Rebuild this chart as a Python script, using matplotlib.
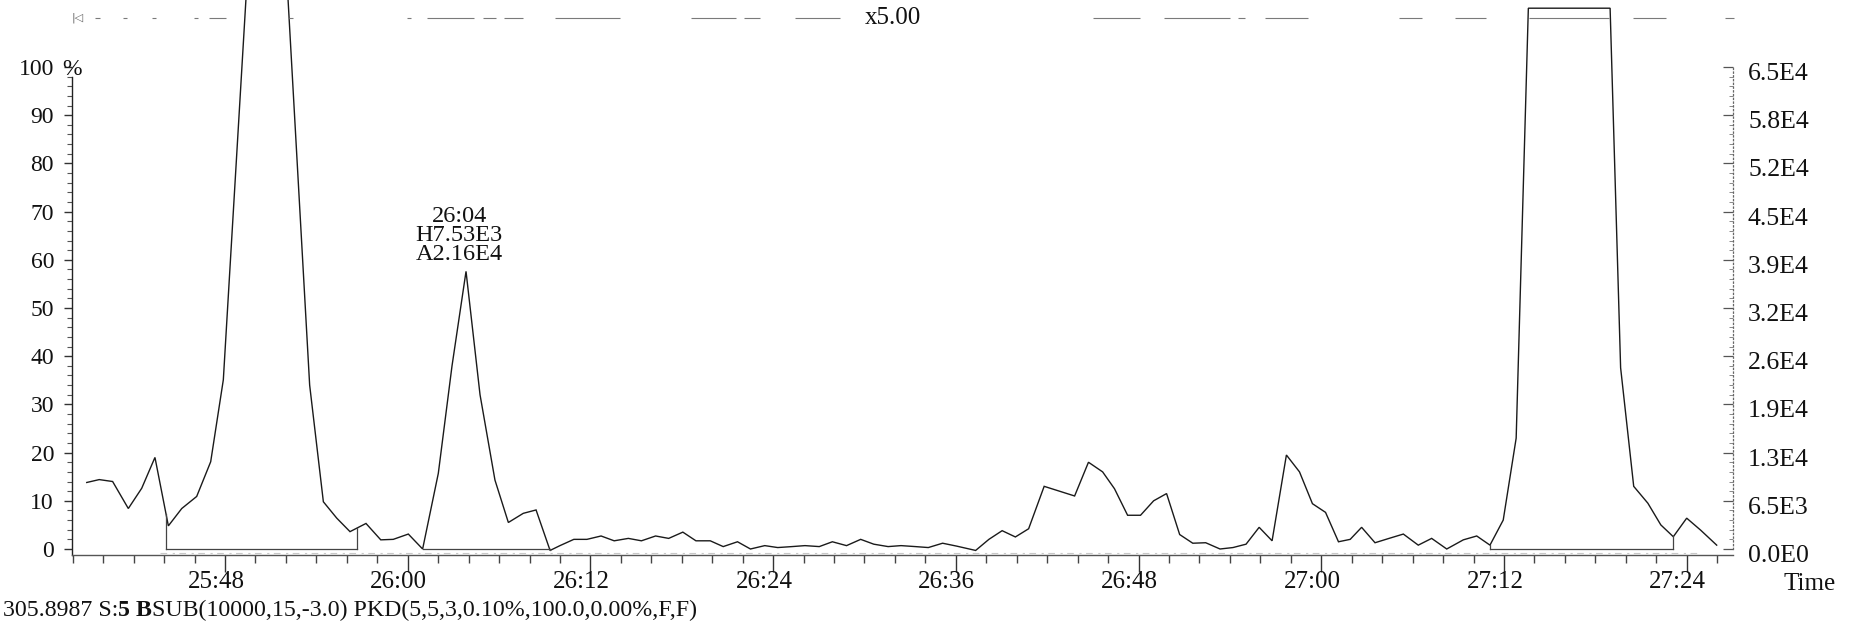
import matplotlib
matplotlib.use("Agg")
import matplotlib.pyplot as plt
import numpy as np

# ---------------- data (time in s after 25:00, display intensity in %) ----------------
scan_time_s = [
    98.92, 99.74, 100.62, 101.65, 102.53, 103.40, 104.28, 105.16, 106.14, 107.06,
    107.89, 109.45, 110.23, 111.15, 112.07, 113.56, 114.46, 115.34, 116.21, 117.26,
    118.23, 119.05, 120.04, 120.98, 122.01, 122.91, 123.83, 124.75, 125.73, 126.61,
    127.59, 128.43, 129.35, 130.00, 130.91, 131.77, 132.70, 133.56, 134.49, 135.35,
    136.28, 137.14, 138.07, 138.93, 139.87, 140.72, 141.66, 142.51, 143.45, 144.30,
    145.24, 146.09, 147.03, 147.89, 148.82, 149.75, 150.61, 151.55, 152.40, 153.34,
    154.19, 155.13, 156.05, 157.30, 158.17, 159.04, 159.91, 160.78, 161.80, 162.80,
    163.80, 164.71, 165.64, 166.42, 167.28, 168.13, 168.99, 169.84, 170.70, 171.56,
    172.41, 173.35, 174.20, 175.06, 175.92, 176.77, 177.71, 178.57, 179.42, 180.28,
    181.13, 181.90, 182.65, 183.53, 184.45, 185.39, 186.37, 187.25, 188.24, 189.33,
    190.21, 191.08, 191.95, 192.80, 193.60, 194.50, 195.40, 196.30, 197.20, 198.10,
    198.97, 199.66, 200.52, 201.45, 202.30, 203.12, 204.00, 204.92, 205.97,
]
intensity_pct = [
    13.8, 14.4, 14.0, 8.4, 12.6, 19.0, 4.8, 8.4, 10.9, 18.1,
    35.1, 118.0, 500.0, 520.0, 118.0, 34.0, 9.8, 6.4, 3.6, 5.3,
    1.9, 2.0, 3.1, 0.0, 15.7, 38.0, 57.6, 32.0, 14.3, 5.5,
    7.4, 8.1, -0.3, 0.7, 2.0, 2.0, 2.7, 1.7, 2.2, 1.7,
    2.7, 2.2, 3.5, 1.7, 1.7, 0.5, 1.5, 0.0, 0.7, 0.3,
    0.5, 0.7, 0.5, 1.5, 0.7, 2.0, 1.0, 0.5, 0.7, 0.5,
    0.3, 1.2, 0.6, -0.3, 2.0, 3.8, 2.5, 4.2, 13.0, 12.0,
    11.0, 18.0, 16.0, 12.5, 7.0, 7.0, 10.0, 11.5, 3.0, 1.2,
    1.3, 0.0, 0.3, 1.0, 4.5, 1.7, 19.5, 16.0, 9.4, 7.6,
    1.5, 2.0, 4.5, 1.3, 2.2, 3.1, 0.8, 2.2, 0.0, 1.9,
    2.7, 0.8, 6.0, 23.0, 112.2, 112.2, 112.2, 112.2, 112.2, 112.2,
    112.2, 37.6, 13.0, 9.5, 5.0, 2.55, 6.4, 3.9, 0.8,
]

# integration windows (start, end) in s after 25:00
peak_windows = [(104.13, 116.65), (120.98, 129.35), (191.08, 203.10)]

x_tick_times = [108, 120, 132, 144, 156, 168, 180, 192, 204]
x_tick_labels = ["25:48", "26:00", "26:12", "26:24", "26:36", "26:48",
                 "27:00", "27:12", "27:24"]
y_tick_values = [0, 10, 20, 30, 40, 50, 60, 70, 80, 90, 100]
left_tick_labels = ["0", "10", "20", "30", "40", "50", "60", "70", "80", "90", "100"]
right_tick_labels = ["0.0E0", "6.5E3", "1.3E4", "1.9E4", "2.6E4", "3.2E4",
                     "3.9E4", "4.5E4", "5.2E4", "5.8E4", "6.5E4"]
peak_label_lines = ["26:04", "H7.53E3", "A2.16E4"]
footer_parts = [("305.8987 S:", "normal"), ("5", "bold"), (" ", "normal"),
                ("B", "bold"), ("SUB(10000,15,-3.0) PKD(5,5,3,0.10%,100.0,0.00%,F,F)", "normal")]

# ---------------- layout ----------------
W, H, DPI = 1859, 622, 100
plt.rcParams['font.family'] = ['Liberation Serif', 'DejaVu Serif']

PX_PER_S = 15.226
X_REF_PX, X_REF_T = 225.0, 108.0
Y0_PX, PX_PER_PCT = 549.0, 4.82
AX_L, AX_R, AX_B, AX_T = 72.0, 1733.0, 555.0, 0.0

# broken "x5" trace across the top (pixel spans)
top_trace_spans = [(95, 100), (123, 127), (152, 156), (194, 198), (209, 226), (289, 293),
                   (407, 411), (427, 474), (483, 496), (504, 523), (555, 620),
                   (691, 736), (744, 760), (795, 840), (1093, 1140), (1164, 1230),
                   (1238, 1245), (1265, 1308), (1399, 1422), (1455, 1486),
                   (1529, 1609), (1633, 1666), (1725, 1734)]


def t_of_px(x):
    return X_REF_T + (x - X_REF_PX) / PX_PER_S


def p_of_px(y):
    return (Y0_PX - y) / PX_PER_PCT


def ypx_of_p(p):
    return Y0_PX - p * PX_PER_PCT


def xpx_of_t(t):
    return X_REF_PX + (t - X_REF_T) * PX_PER_S


def fx(x):
    return x / W


def fy(y):
    return 1 - y / H


fig = plt.figure(figsize=(W / DPI, H / DPI), dpi=DPI)
fig.patch.set_facecolor('white')
ax = fig.add_axes([AX_L / W, 1 - AX_B / H, (AX_R - AX_L) / W, (AX_B - AX_T) / H])
ax.patch.set_alpha(0)
ax.set_xlim(t_of_px(AX_L), t_of_px(AX_R))
ax.set_ylim(p_of_px(AX_B), p_of_px(AX_T))

for s in ['top', 'right']:
    ax.spines[s].set_visible(False)
ax.spines['left'].set_bounds(p_of_px(AX_B), p_of_px(77))
ax.spines['left'].set_color('#222222')
ax.spines['left'].set_linewidth(1.0)
ax.spines['bottom'].set_color('#555555')
ax.spines['bottom'].set_linewidth(1.0)

# x ticks
ax.set_xticks(x_tick_times)
ax.set_xticks(np.arange(98, 207, 2), minor=True)
ax.tick_params(axis='x', which='major', length=12, width=1.0, color='#333333',
               direction='out', labelbottom=False)
ax.tick_params(axis='x', which='minor', length=6, width=1.0, color='#444444',
               direction='out')
# y ticks (left)
ax.set_yticks(y_tick_values)
ax.set_yticks(np.arange(0, 101, 2), minor=True)
ax.tick_params(axis='y', which='major', length=6, width=1.0, color='#333333',
               direction='out', labelleft=False)
ax.tick_params(axis='y', which='minor', length=3.5, width=0.8, color='#555555',
               direction='out')

# right axis (dotted)
ax2 = ax.twinx()
ax2.set_ylim(ax.get_ylim())
for s in ['top', 'left', 'bottom']:
    ax2.spines[s].set_visible(False)
ax2.spines['right'].set_bounds(0, 100)
ax2.spines['right'].set_linestyle((0, (1, 2)))
ax2.spines['right'].set_color('#666666')
ax2.spines['right'].set_linewidth(0.9)
ax2.set_yticks(y_tick_values)
ax2.set_yticks(np.arange(0, 101, 2), minor=True)
ax2.tick_params(axis='y', which='major', length=7, width=0.9, color='#555555',
                direction='in', labelright=False)
ax2.tick_params(axis='y', which='minor', length=3, width=0.7, color='#888888',
                direction='in')

# chromatogram trace
ax.plot(scan_time_s, intensity_pct, color='#1a1a1a', lw=1.0, solid_joinstyle='miter')

# integration baselines and drop lines
for t0, t1 in peak_windows:
    ax.plot([t0, t1], [0, 0], color='#444444', lw=0.9)
    for tt in (t0, t1):
        v = float(np.interp(tt, scan_time_s, intensity_pct))
        ax.plot([tt, tt], [0, v], color='#444444', lw=0.9)

# broken trace along the top
for a, b in top_trace_spans:
    ax.plot([t_of_px(a), t_of_px(b)], [p_of_px(17.5)] * 2, color='#7a7a7a', lw=0.8,
            clip_on=False, solid_capstyle='butt')
# faint dotted baseline just above the axis
ax.plot([t_of_px(160), t_of_px(1700)], [p_of_px(552.5)] * 2, color='#c8c8c8', lw=0.8,
        dashes=(6, 5, 2, 4), clip_on=False)

# peak annotation
ts = np.array(scan_time_s)
ps = np.array(intensity_pct)
mask = (ts > 120) & (ts < 130)
i_apex = np.argmax(np.where(mask, ps, -1e9))
for line, off in zip(peak_label_lines, [54.5, 35.5, 17.0]):
    ax.annotate(line, xy=(ts[i_apex], ps[i_apex]), xytext=(-7, off),
                textcoords='offset pixels', ha='center', va='center',
                fontsize=17.5, color='#111111', annotation_clip=False)

# x tick labels
for t, lab in zip(x_tick_times, x_tick_labels):
    fig.text(fx(xpx_of_t(t) - 9), fy(582), lab, ha='center', va='center',
             fontsize=18, color='#111111')

# left tick labels
for v, lab in zip(y_tick_values, left_tick_labels):
    fig.text(fx(54), fy(ypx_of_p(v) + 2.5), lab, ha='right', va='center',
             fontsize=17, color='#111111')
fig.text(fx(62), fy(ypx_of_p(100) + 2.5), "%", ha='left', va='center',
         fontsize=17, color='#111111')

# right tick labels
for v, lab in zip(y_tick_values, right_tick_labels):
    fig.text(fx(1748), fy(ypx_of_p(v) + 7), lab, ha='left', va='center',
             fontsize=18.5, color='#111111')

fig.text(fx(1810), fy(584), "Time", ha='center', va='center', fontsize=18,
         color='#111111')
fig.text(fx(893), fy(18), "x5.00", ha='center', va='center', fontsize=18,
         color='#111111')
fig.text(fx(78), fy(17.5), "|\u25c1", ha='center', va='center', fontsize=8,
         color='#666666', family=['DejaVu Sans'])

# footer with bold pieces
renderer = fig.canvas.get_renderer()
xcur = 3.0
for txt, wt in footer_parts:
    tobj = fig.text(fx(xcur), fy(610), txt, ha='left', va='center', fontsize=17.2,
                    fontweight=wt, color='#111111')
    bb = tobj.get_window_extent(renderer=renderer)
    xcur += bb.width

fig.savefig("out.png", dpi=DPI, facecolor='white')
